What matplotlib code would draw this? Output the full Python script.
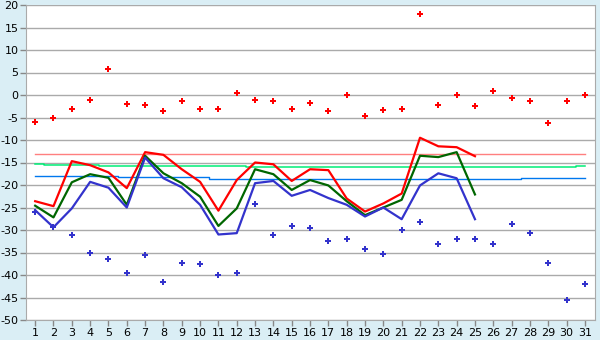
import matplotlib
matplotlib.use("Agg")
import matplotlib.pyplot as plt

plt.rcParams["axes.unicode_minus"] = False

days = list(range(1, 32))
line_days = list(range(1, 26))

# daily extremes (dots)
max_dots = [-6.0, -5.2, -3.0, -1.0, 5.7, -2.1, -2.3, -3.6, -1.4, -3.0,
            -3.2, 0.4, -1.2, -1.4, -3.0, -1.8, -3.6, -0.1, -4.7, -3.4,
            -3.0, 18.1, -2.3, -0.1, -2.5, 1.0, -0.7, -1.4, -6.3, -1.4, 0.0]
min_dots = [-25.9, -29.4, -31.0, -35.2, -36.5, -39.6, -35.6, -41.6, -37.4, -37.6,
            -40.1, -39.6, -24.3, -31.2, -29.0, -29.6, -32.5, -32.1, -34.3, -35.4,
            -30.1, -28.3, -33.0, -32.1, -31.9, -33.2, -28.7, -30.7, -37.4, -45.6, -42.1]

# daily lines
red_line = [-23.6, -24.7, -14.7, -15.6, -17.2, -20.7, -12.7, -13.3, -16.5, -19.3,
            -25.7, -18.9, -15.0, -15.4, -19.1, -16.5, -16.7, -23.0, -25.9, -24.1,
            -21.9, -9.5, -11.4, -11.6, -13.6]
green_line = [-24.6, -27.2, -19.4, -17.6, -18.4, -24.4, -13.5, -17.4, -19.6, -22.6,
              -29.1, -25.2, -16.5, -17.6, -21.1, -18.9, -20.1, -23.6, -26.7, -25.0,
              -23.3, -13.5, -13.8, -12.7, -22.1]
blue_line = [-25.6, -29.4, -25.2, -19.3, -20.6, -25.0, -13.9, -18.5, -20.5, -24.4,
             -31.0, -30.7, -19.6, -19.1, -22.4, -21.1, -22.9, -24.4, -27.0, -25.0,
             -27.6, -20.1, -17.4, -18.5, -27.6]

# reference (normal) lines
pink_ref = [-13.0] * 15 + [-13.2] * 16
green_ref = [-15.3] + [-15.5] * 3 + [-15.7] * 8 + [-16.1] * 18 + [-15.8]
blue_ref = [-18.0] * 5 + [-18.3] * 5 + [-18.6] * 17 + [-18.45] * 4

fig = plt.figure(figsize=(6, 3.4), dpi=100, facecolor="#daeef5")
ax = fig.add_axes([26 / 600, 20 / 340, 569 / 600, 315 / 340])
ax.set_facecolor("white")

ax.plot(days, pink_ref, color="#ff7f7f", lw=1.0, drawstyle="steps-mid")
ax.plot(days, green_ref, color="#00ee77", lw=1.1, drawstyle="steps-mid")
ax.plot(days, blue_ref, color="#0077ee", lw=1.0, drawstyle="steps-mid")

ax.plot(line_days, red_line, color="#ff0000", lw=1.6)
ax.plot(line_days, green_line, color="#006600", lw=1.6)
ax.plot(line_days, blue_line, color="#3333cc", lw=1.6)

ax.plot(days, max_dots, ls="none", marker="P", ms=5, color="#ff0000", mew=0)
ax.plot(days, min_dots, ls="none", marker="P", ms=5, color="#3333cc", mew=0)

ax.set_xlim(0.5, 31.55)
ax.set_ylim(-50, 20)
ax.set_yticks(range(-50, 21, 5))
ax.set_xticks(days)
ax.yaxis.grid(True, color="#aaaaaa", lw=1)
ax.set_axisbelow(True)
for s in ax.spines.values():
    s.set_color("#aaaaaa")
ax.spines["top"].set_visible(False)
ax.tick_params(axis="both", colors="#888888", labelcolor="black", labelsize=8,
               length=4, width=1, pad=1.5)

fig.savefig("out.png", dpi=100, facecolor=fig.get_facecolor())
